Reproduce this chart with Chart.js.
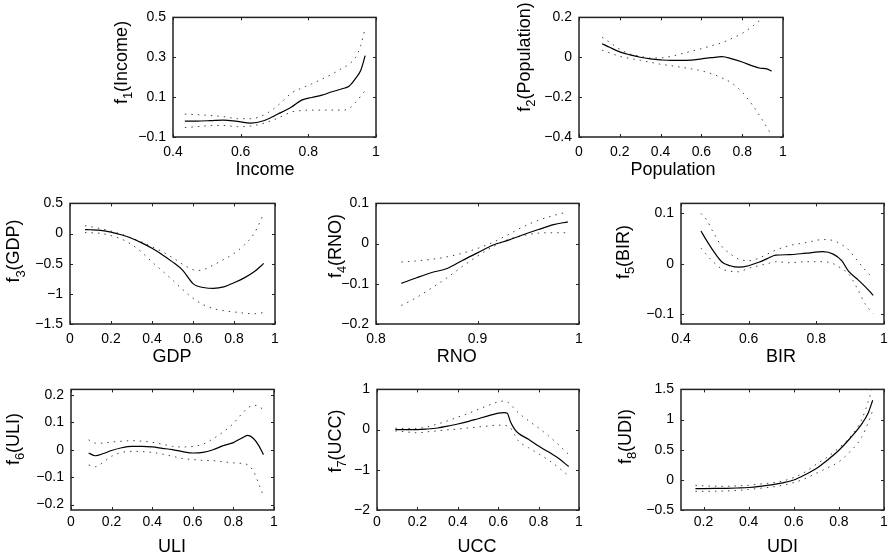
<!DOCTYPE html>
<html><head><meta charset="utf-8">
<script src="https://cdn.jsdelivr.net/npm/chart.js@4.4.1/dist/chart.umd.min.js"></script>
<style>
html,body{margin:0;padding:0;background:#fff;overflow:hidden;}
#fig{position:relative;width:889px;height:557px;overflow:hidden;}
canvas{position:absolute;}
</style></head><body><div id="fig"></div>
<script>
// ---------- data ----------
const incomeX     = [0.435,0.47,0.51,0.55,0.59,0.63,0.67,0.71,0.75,0.78,0.81,0.84,0.87,0.90,0.92,0.94,0.955,0.968];
const incomeFit   = [-0.02,-0.02,-0.018,-0.015,-0.022,-0.03,-0.017,0.015,0.05,0.085,0.098,0.11,0.127,0.142,0.155,0.195,0.235,0.308];
const incomeUpper = [0.015,0.012,0.008,0.002,-0.008,-0.008,0.012,0.058,0.12,0.145,0.167,0.19,0.215,0.245,0.265,0.3,0.36,0.446];
const incomeLower = [-0.053,-0.048,-0.043,-0.042,-0.048,-0.045,-0.03,-0.005,0.025,0.033,0.035,0.035,0.035,0.035,0.042,0.075,0.105,0.133];
const incomeXTicks = [0.4,0.6,0.8,1];
const incomeYTicks = [-0.1,0.1,0.3,0.5];

const popX     = [0.113,0.15,0.2,0.25,0.3,0.35,0.4,0.45,0.5,0.55,0.6,0.65,0.7,0.75,0.8,0.85,0.89,0.92,0.944];
const popFit   = [0.068,0.05,0.027,0.012,0.0,-0.008,-0.013,-0.016,-0.016,-0.014,-0.008,-0.002,0.003,-0.008,-0.024,-0.043,-0.055,-0.058,-0.07];
const popUpper = [0.1,0.075,0.04,0.016,0.005,-0.004,-0.003,0.004,0.017,0.03,0.043,0.058,0.073,0.095,0.12,0.155,0.19,0.225,0.255];
const popLower = [0.036,0.022,0.005,-0.006,-0.015,-0.025,-0.035,-0.042,-0.05,-0.058,-0.068,-0.083,-0.103,-0.13,-0.175,-0.24,-0.3,-0.35,-0.39];
const popXTicks = [0,0.2,0.4,0.6,0.8,1];
const popYTicks = [-0.4,-0.2,0,0.2];

const gdpX     = [0.073,0.1,0.15,0.2,0.25,0.3,0.35,0.4,0.45,0.5,0.55,0.6,0.62,0.65,0.7,0.75,0.8,0.85,0.9,0.945];
const gdpFit   = [0.065,0.063,0.053,0.025,-0.02,-0.078,-0.155,-0.245,-0.35,-0.47,-0.61,-0.83,-0.87,-0.895,-0.909,-0.885,-0.815,-0.735,-0.63,-0.495];
const gdpUpper = [0.13,0.115,0.08,0.04,-0.01,-0.075,-0.14,-0.22,-0.3,-0.4,-0.51,-0.6,-0.613,-0.6,-0.52,-0.43,-0.33,-0.19,0.01,0.33];
const gdpLower = [0.016,0.013,0.003,-0.035,-0.09,-0.18,-0.31,-0.47,-0.62,-0.77,-0.93,-1.075,-1.12,-1.18,-1.245,-1.28,-1.3,-1.32,-1.33,-1.31];
const gdpXTicks = [0,0.2,0.4,0.6,0.8,1];
const gdpYTicks = [-1.5,-1,-0.5,0,0.5];

const rnoX     = [0.825,0.84,0.855,0.87,0.885,0.9,0.915,0.93,0.945,0.96,0.975,0.989];
const rnoFit   = [-0.099,-0.085,-0.072,-0.062,-0.042,-0.023,-0.004,0.008,0.022,0.035,0.047,0.054];
const rnoUpper = [-0.046,-0.043,-0.039,-0.033,-0.024,-0.012,0.003,0.022,0.042,0.058,0.07,0.079];
const rnoLower = [-0.154,-0.134,-0.11,-0.085,-0.057,-0.031,-0.008,0.01,0.02,0.026,0.027,0.027];
const rnoXTicks = [0.8,0.9,1];
const rnoYTicks = [-0.2,-0.1,0,0.1];

const birX     = [0.459,0.475,0.495,0.52,0.545,0.57,0.6,0.63,0.655,0.68,0.72,0.77,0.82,0.85,0.875,0.895,0.92,0.945,0.968];
const birFit   = [0.065,0.047,0.026,0.004,-0.004,-0.007,-0.004,0.003,0.01,0.017,0.018,0.021,0.024,0.019,0.006,-0.015,-0.03,-0.046,-0.063];
const birUpper = [0.1,0.088,0.063,0.035,0.02,0.009,0.006,0.011,0.019,0.027,0.036,0.042,0.048,0.046,0.038,0.028,0.007,-0.013,-0.029];
const birLower = [0.031,0.018,0.004,-0.01,-0.015,-0.016,-0.009,-0.004,0.0,0.004,0.002,0.004,0.004,0.0,-0.01,-0.02,-0.048,-0.081,-0.099];
const birXTicks = [0.4,0.6,0.8,1];
const birYTicks = [-0.1,0,0.1];

const uliX     = [0.087,0.12,0.16,0.2,0.25,0.3,0.35,0.4,0.45,0.5,0.55,0.6,0.65,0.7,0.75,0.8,0.84,0.87,0.9,0.925,0.948];
const uliFit   = [-0.012,-0.022,-0.014,-0.003,0.007,0.012,0.012,0.01,0.005,0.0,-0.007,-0.012,-0.01,0.0,0.015,0.026,0.042,0.052,0.04,0.015,-0.018];
const uliUpper = [0.036,0.024,0.024,0.028,0.031,0.033,0.031,0.027,0.02,0.012,0.01,0.012,0.02,0.04,0.065,0.096,0.13,0.152,0.162,0.158,0.146];
const uliLower = [-0.056,-0.062,-0.045,-0.024,-0.01,-0.006,-0.007,-0.01,-0.016,-0.024,-0.032,-0.036,-0.039,-0.04,-0.044,-0.048,-0.05,-0.055,-0.08,-0.125,-0.17];
const uliXTicks = [0,0.2,0.4,0.6,0.8,1];
const uliYTicks = [-0.2,-0.1,0,0.1,0.2];

const uccX     = [0.091,0.15,0.2,0.25,0.3,0.35,0.4,0.45,0.5,0.55,0.6,0.63,0.645,0.66,0.68,0.7,0.75,0.8,0.85,0.9,0.949];
const uccFit   = [0.0,0.0,0.0,0.015,0.04,0.085,0.14,0.2,0.27,0.34,0.41,0.42,0.405,0.2,0.02,-0.09,-0.24,-0.41,-0.56,-0.72,-0.92];
const uccUpper = [0.032,0.028,0.03,0.07,0.14,0.22,0.31,0.4,0.5,0.6,0.69,0.71,0.69,0.63,0.52,0.42,0.22,0.04,-0.16,-0.38,-0.62];
const uccLower = [-0.032,-0.06,-0.08,-0.055,-0.03,-0.005,0.013,0.04,0.065,0.09,0.11,0.11,0.09,0.048,-0.12,-0.28,-0.45,-0.6,-0.76,-0.95,-1.15];
const uccXTicks = [0,0.2,0.4,0.6,0.8,1];
const uccYTicks = [-2,-1,0,1];

const udiX     = [0.164,0.2,0.25,0.3,0.35,0.4,0.45,0.5,0.55,0.6,0.65,0.7,0.75,0.8,0.85,0.9,0.93,0.95];
const udiFit   = [-0.146,-0.145,-0.143,-0.14,-0.135,-0.127,-0.108,-0.082,-0.05,-0.002,0.085,0.19,0.33,0.49,0.69,0.92,1.11,1.32];
const udiUpper = [-0.09,-0.1,-0.105,-0.107,-0.1,-0.09,-0.07,-0.05,-0.02,0.04,0.13,0.26,0.38,0.53,0.71,0.99,1.3,1.55];
const udiLower = [-0.19,-0.19,-0.187,-0.184,-0.175,-0.16,-0.14,-0.12,-0.09,-0.045,0.02,0.11,0.2,0.3,0.47,0.7,0.95,1.15];
const udiXTicks = [0.2,0.4,0.6,0.8,1];
const udiYTicks = [-0.5,0,0.5,1,1.5];

// ---------- panels (layout in page pixels) ----------
const panels = [
 {name:'Income', sub:'1', x:incomeX, fit:incomeFit, up:incomeUpper, lo:incomeLower, xr:[0.4,1], yr:[-0.1,0.5], xt:incomeXTicks, yt:incomeYTicks,
  box:[173,14,203,123], yTitle:[126.7,62.5], xTitle:[265,175], xPad:6.4},
 {name:'Population', sub:'2', x:popX, fit:popFit, up:popUpper, lo:popLower, xr:[0,1], yr:[-0.4,0.2], xt:popXTicks, yt:popYTicks,
  box:[579,14,204,123], yTitle:[529.7,57], xTitle:[673,175], xPad:6.4},
 {name:'GDP', sub:'3', x:gdpX, fit:gdpFit, up:gdpUpper, lo:gdpLower, xr:[0,1], yr:[-1.5,0.5], xt:gdpXTicks, yt:gdpYTicks,
  box:[70,200,205,124], yTitle:[19.2,251], xTitle:[172,361.7], xPad:6.7},
 {name:'RNO', sub:'4', x:rnoX, fit:rnoFit, up:rnoUpper, lo:rnoLower, xr:[0.8,1], yr:[-0.2,0.1], xt:rnoXTicks, yt:rnoYTicks,
  box:[376,200,203,124], yTitle:[340.7,246], xTitle:[456.7,361.7], xPad:6.7},
 {name:'BIR', sub:'5', x:birX, fit:birFit, up:birUpper, lo:birLower, xr:[0.4,1], yr:[-0.12,0.12], xt:birXTicks, yt:birYTicks,
  box:[681,200,203,124], yTitle:[628.7,252], xTitle:[781,362], xPad:6.7},
 {name:'ULI', sub:'6', x:uliX, fit:uliFit, up:uliUpper, lo:uliLower, xr:[0,1], yr:[-0.22,0.22], xt:uliXTicks, yt:uliYTicks,
  box:[71,386,203,124], yTitle:[18.7,439], xTitle:[172,551.7], xPad:3.4},
 {name:'UCC', sub:'7', x:uccX, fit:uccFit, up:uccUpper, lo:uccLower, xr:[0,1], yr:[-2,1], xt:uccXTicks, yt:uccYTicks,
  box:[377,386,202,124], yTitle:[340.7,441], xTitle:[477,551.7], xPad:3.4},
 {name:'UDI', sub:'8', x:udiX, fit:udiFit, up:udiUpper, lo:udiLower, xr:[0.1,1], yr:[-0.5,1.5], xt:udiXTicks, yt:udiYTicks,
  box:[681,386,203,124], yTitle:[630.7,436.5], xTitle:[782.5,551.7], xPad:3.4}
];

const FONT = '"Liberation Sans", Arial, Helvetica, sans-serif';
const TICK_SIZE = 14, TITLE_SIZE = 18;
Chart.defaults.font.family = FONT;
Chart.defaults.color = '#000';

function fmt(v){
  const s = String(+Number(v).toFixed(4));
  return v < 0 ? '\u2212' + s.replace('-', '') : s;
}

const framePlugin = {
  id: 'frame',
  afterDraw(chart, args, o) {
    const {ctx, chartArea: a, scales: {x, y}} = chart;
    ctx.save();
    // inward ticks
    ctx.strokeStyle = '#222'; ctx.lineWidth = 1;
    ctx.beginPath();
    x.ticks.forEach(t => {
      const px = Math.round(x.getPixelForValue(t.value)) + 0.5;
      ctx.moveTo(px, a.bottom); ctx.lineTo(px, a.bottom - 3);
      ctx.moveTo(px, a.top); ctx.lineTo(px, a.top + 3);
    });
    y.ticks.forEach(t => {
      const py = Math.round(y.getPixelForValue(t.value)) + 0.5;
      ctx.moveTo(a.left, py); ctx.lineTo(a.left + 3, py);
      ctx.moveTo(a.right, py); ctx.lineTo(a.right - 3, py);
    });
    ctx.stroke();
    // box
    ctx.lineWidth = 1.5; ctx.strokeStyle = '#222';
    ctx.strokeRect(a.left, a.top, a.right - a.left, a.bottom - a.top);
    // x title
    ctx.fillStyle = '#000';
    ctx.font = TITLE_SIZE + 'px ' + FONT;
    ctx.textAlign = 'center'; ctx.textBaseline = 'alphabetic';
    ctx.fillText(o.name, o.xTitle[0] - o.off[0], o.xTitle[1] - o.off[1]);
    // y title with subscript, rotated
    const main = '(' + o.name + ')';
    ctx.font = TITLE_SIZE + 'px ' + FONT;
    const w1 = ctx.measureText('f').width, w3 = ctx.measureText(main).width;
    const subSize = Math.round(TITLE_SIZE * 0.72);
    ctx.font = subSize + 'px ' + FONT;
    const w2 = ctx.measureText(o.sub).width;
    const total = w1 + w2 + w3;
    ctx.translate(o.yTitle[0] - o.off[0], o.yTitle[1] - o.off[1]);
    ctx.rotate(-Math.PI / 2);
    ctx.textAlign = 'left';
    let s = -total / 2;
    ctx.font = TITLE_SIZE + 'px ' + FONT;
    ctx.fillText('f', s, 0); s += w1;
    ctx.font = subSize + 'px ' + FONT;
    ctx.fillText(o.sub, s, TITLE_SIZE * 0.32); s += w2;
    ctx.font = TITLE_SIZE + 'px ' + FONT;
    ctx.fillText(main, s, 0);
    ctx.restore();
  }
};

const fig = document.getElementById('fig');
const L = 80, T = 12, R = 12;

panels.forEach(p => {
  const [bl, bt, bw, bh] = p.box;
  const B = Math.min(50, 557 - (bt + bh));
  const cv = document.createElement('canvas');
  const cw = L + bw + R, ch = T + bh + B;
  cv.width = cw; cv.height = ch;
  cv.style.left = (bl - L) + 'px'; cv.style.top = (bt - T) + 'px';
  cv.style.width = cw + 'px'; cv.style.height = ch + 'px';
  fig.appendChild(cv);
  const pts = arr => p.x.map((xv, i) => ({x: xv, y: arr[i]}));
  const dotted = {borderColor: '#444', borderWidth: 1, borderDash: [1.5, 5], borderCapStyle: 'butt'};
  new Chart(cv, {
    type: 'line',
    data: {
      datasets: [
        {data: pts(p.fit), borderColor: '#000', borderWidth: 1.2},
        Object.assign({data: pts(p.up)}, dotted),
        Object.assign({data: pts(p.lo)}, dotted)
      ]
    },
    options: {
      responsive: false, animation: false, devicePixelRatio: 1,
      layout: {padding: {top: T, right: R, left: 0, bottom: 0}},
      elements: {point: {radius: 0}, line: {cubicInterpolationMode: 'monotone', fill: false}},
      plugins: {legend: {display: false}, tooltip: {enabled: false},
        frame: {name: p.name, sub: p.sub, xTitle: p.xTitle, yTitle: p.yTitle, off: [bl - L, bt - T]}},
      scales: {
        x: {type: 'linear', min: p.xr[0], max: p.xr[1],
          grid: {display: false, drawTicks: false}, border: {display: false},
          afterBuildTicks: s => { s.ticks = p.xt.map(v => ({value: v})); },
          afterFit: s => { s.height = B; },
          ticks: {font: {size: TICK_SIZE}, padding: p.xPad, maxRotation: 0, autoSkip: false, callback: v => fmt(v)}},
        y: {type: 'linear', min: p.yr[0], max: p.yr[1],
          grid: {display: false, drawTicks: false}, border: {display: false},
          afterBuildTicks: s => { s.ticks = p.yt.map(v => ({value: v})); },
          afterFit: s => { s.width = L; },
          ticks: {font: {size: TICK_SIZE}, padding: 7, autoSkip: false, callback: v => fmt(v)}}
      }
    },
    plugins: [framePlugin]
  });
});
</script>
</body></html>
